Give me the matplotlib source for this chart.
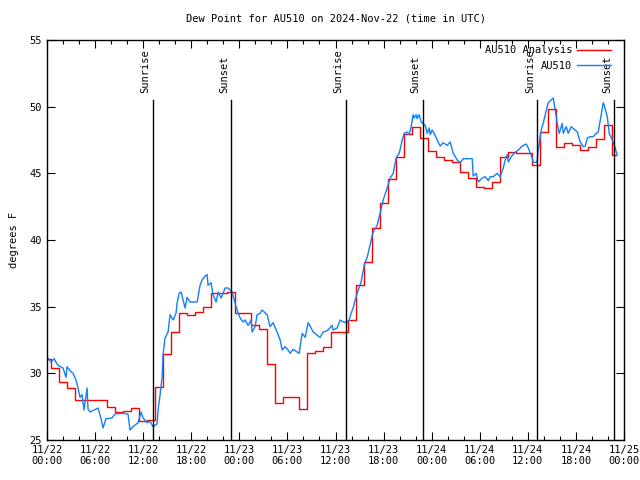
import numpy as np
import matplotlib
matplotlib.use("Agg")
import matplotlib.pyplot as plt
from matplotlib.ticker import MultipleLocator

# hourly analysis values, hour 0 = 2024-11-22 00:00 UTC
analysis_vals = [31.1, 30.4, 29.35, 28.9, 28.0, 28.0, 28.0, 28.0, 27.5, 27.1,
                 27.15, 27.4, 26.4, 26.5, 29.0, 31.45, 33.1, 34.5, 34.4, 34.6,
                 35.0, 36.0, 36.0, 36.1, 34.5, 34.5, 33.6, 33.3, 30.7, 27.8,
                 28.2, 28.2, 27.3, 31.5, 31.7, 32.0, 33.1, 33.1, 34.0, 36.6,
                 38.35, 40.9, 42.8, 44.6, 46.2, 47.95, 48.5, 47.65, 46.7, 46.2,
                 46.0, 45.85, 45.1, 44.65, 44.0, 43.9, 44.35, 46.2, 46.6, 46.5,
                 46.5, 45.6, 48.1, 49.8, 47.0, 47.25, 47.1, 46.75, 47.0, 47.55,
                 48.6, 46.4]
analysis_hours = np.arange(len(analysis_vals))

# station observations: (hours since start, deg F)
obs = [(0.16, 31.1), (0.5, 30.85), (0.87, 31.1), (1.25, 30.7), (1.5, 30.55),
       (2.0, 30.4), (2.37, 29.7), (2.5, 30.5), (2.87, 30.2), (3.25, 30.0),
       (3.62, 29.5), (3.87, 28.9), (4.12, 28.2), (4.37, 28.4), (4.62, 27.25),
       (5.0, 28.9), (5.12, 27.3), (5.37, 27.1), (5.87, 27.25), (6.37, 27.4),
       (6.74, 26.6), (6.99, 25.9), (7.37, 26.6), (8.11, 26.65), (8.49, 26.95),
       (9.36, 27.0), (10.11, 26.95), (10.36, 25.75), (10.74, 26.0), (11.36, 26.3),
       (11.74, 27.1), (11.99, 26.65), (12.48, 26.3), (12.86, 26.4), (13.23, 26.0),
       (13.73, 26.2), (13.86, 27.25), (14.11, 28.4), (14.36, 29.7), (14.48, 31.4),
       (14.73, 32.65), (15.11, 33.1), (15.36, 34.4), (15.73, 34.0), (16.1, 34.5),
       (16.23, 35.25), (16.48, 36.0), (16.73, 36.1), (16.98, 35.5), (17.23, 34.9),
       (17.48, 35.7), (17.85, 35.35), (18.73, 35.35), (19.1, 36.6), (19.35, 37.0),
       (19.73, 37.3), (19.98, 37.4), (20.1, 36.6), (20.47, 36.8), (20.72, 35.9),
       (21.1, 35.35), (21.35, 36.1), (21.72, 35.65), (21.97, 36.0), (22.22, 36.4),
       (22.6, 36.4), (23.1, 36.1), (23.47, 35.25), (23.72, 34.75), (24.1, 34.15),
       (24.47, 33.85), (24.72, 34.0), (25.09, 33.6), (25.47, 34.0), (25.59, 33.1),
       (25.97, 33.5), (26.22, 34.4), (26.59, 34.5), (26.84, 34.75), (27.47, 34.4),
       (27.84, 33.5), (28.21, 33.8), (28.71, 33.1), (29.09, 32.5), (29.34, 31.75),
       (29.71, 32.0), (30.09, 31.75), (30.34, 31.5), (30.71, 31.8), (31.21, 31.6),
       (31.46, 31.5), (31.84, 33.0), (32.21, 32.7), (32.58, 33.8), (32.96, 33.4),
       (33.21, 33.1), (33.83, 32.8), (34.08, 32.7), (34.46, 33.1), (34.96, 33.2),
       (35.58, 33.6), (35.71, 33.25), (36.2, 33.4), (36.58, 34.0), (36.95, 33.85),
       (37.33, 33.8), (37.7, 34.0), (37.95, 34.5), (38.2, 34.9), (38.45, 35.5),
       (38.83, 36.25), (39.2, 36.85), (39.58, 38.1), (39.95, 38.7), (40.45, 40.0),
       (40.7, 40.6), (41.2, 41.1), (41.57, 42.0), (41.95, 43.0), (42.45, 43.9),
       (42.82, 44.65), (43.2, 45.0), (43.57, 46.15), (43.95, 46.5), (44.32, 47.5),
       (44.57, 48.0), (44.94, 48.1), (45.19, 47.9), (45.44, 48.5), (45.69, 49.4),
       (45.82, 49.15), (46.07, 49.4), (46.19, 49.1), (46.44, 49.4), (46.69, 48.85),
       (47.19, 48.6), (47.44, 48.0), (47.69, 48.4), (47.82, 47.9), (48.06, 48.25),
       (48.31, 48.0), (48.69, 47.5), (49.06, 47.05), (49.44, 47.3), (49.94, 47.1),
       (50.31, 47.35), (50.69, 46.5), (51.19, 46.0), (51.56, 45.8), (51.94, 46.1),
       (52.56, 46.1), (53.06, 46.1), (53.18, 44.8), (53.56, 45.0), (53.81, 44.35),
       (54.31, 44.65), (54.68, 44.75), (55.06, 44.45), (55.31, 44.75), (55.68, 44.75),
       (56.18, 45.0), (56.55, 44.75), (56.93, 45.4), (57.18, 46.0), (57.43, 46.4),
       (57.55, 45.85), (57.93, 46.25), (58.3, 46.5), (58.8, 46.75), (59.3, 47.05),
       (59.8, 47.2), (60.05, 46.9), (60.55, 46.15), (60.67, 45.85), (61.05, 45.8),
       (61.17, 46.0), (61.3, 46.75), (61.67, 48.25), (61.92, 48.75), (62.17, 49.4),
       (62.55, 50.3), (62.92, 50.5), (63.17, 50.65), (63.42, 49.75), (63.67, 48.75),
       (63.92, 48.0), (64.29, 48.75), (64.42, 48.0), (64.79, 48.5), (65.04, 48.0),
       (65.42, 48.5), (65.79, 48.3), (66.17, 48.1), (66.54, 47.35), (66.92, 47.0),
       (67.17, 47.05), (67.42, 47.65), (67.79, 47.75), (68.16, 47.75), (68.54, 48.0),
       (68.79, 48.1), (69.16, 49.4), (69.41, 50.3), (69.54, 50.1), (69.91, 49.25),
       (70.16, 48.0), (70.54, 47.5), (70.79, 47.1), (71.04, 46.6), (71.16, 46.4)]
obs_hours = [h for h, v in obs]
obs_vals = [v for h, v in obs]

sunrise_hours = [13.2, 37.3, 61.2]
sunset_hours = [23.0, 46.9, 70.8]

tick_hours = np.arange(0, 73, 6)
tick_labels = ["11/22\n00:00", "11/22\n06:00", "11/22\n12:00", "11/22\n18:00",
               "11/23\n00:00", "11/23\n06:00", "11/23\n12:00", "11/23\n18:00",
               "11/24\n00:00", "11/24\n06:00", "11/24\n12:00", "11/24\n18:00",
               "11/25\n00:00"]

plt.rcParams['font.family'] = 'DejaVu Sans Mono'
fs = 7.5

fig = plt.figure(figsize=(6.4, 4.8), dpi=100)
ax = fig.add_axes([47/640, 40/480, 577/640, 400/480])

ax.plot(analysis_hours, analysis_vals, drawstyle='steps-mid', color='#ff0000',
        lw=1.0, label='AU510 Analysis')
ax.plot(obs_hours, obs_vals, color='#1080ff', lw=1.0, label='AU510')

for h in sunrise_hours + sunset_hours:
    ax.axvline(h, ymin=0, ymax=0.85, color='black', lw=1.0)
for h in sunrise_hours:
    ax.text(h - 0.3, 51.0, 'Sunrise', rotation=90, ha='right', va='bottom', fontsize=fs)
for h in sunset_hours:
    ax.text(h - 0.3, 51.0, 'Sunset', rotation=90, ha='right', va='bottom', fontsize=fs)

ax.set_xlim(0, 72)
ax.set_ylim(25, 55)
ax.set_xticks(tick_hours)
ax.set_xticklabels(tick_labels, fontsize=fs)
ax.xaxis.set_minor_locator(MultipleLocator(2))
ax.set_yticks(np.arange(25, 56, 5))
ax.tick_params(axis='y', labelsize=fs)
ax.tick_params(which='both', direction='in', top=True, right=True, width=0.8)
ax.tick_params(which='major', length=6)
ax.tick_params(which='minor', length=3)
for s in ax.spines.values():
    s.set_linewidth(1.0)

ax.set_ylabel('degrees F', fontsize=fs, labelpad=8)
ax.set_title('Dew Point for AU510 on 2024-Nov-22 (time in UTC)', fontsize=fs, pad=13)

ax.legend(loc='upper right', bbox_to_anchor=(0.986, 1.0), frameon=False,
          markerfirst=False, fontsize=fs, handlelength=3.2, borderaxespad=0.1,
          labelspacing=0.55, handletextpad=0.5)

fig.savefig('out.png', dpi=100)
